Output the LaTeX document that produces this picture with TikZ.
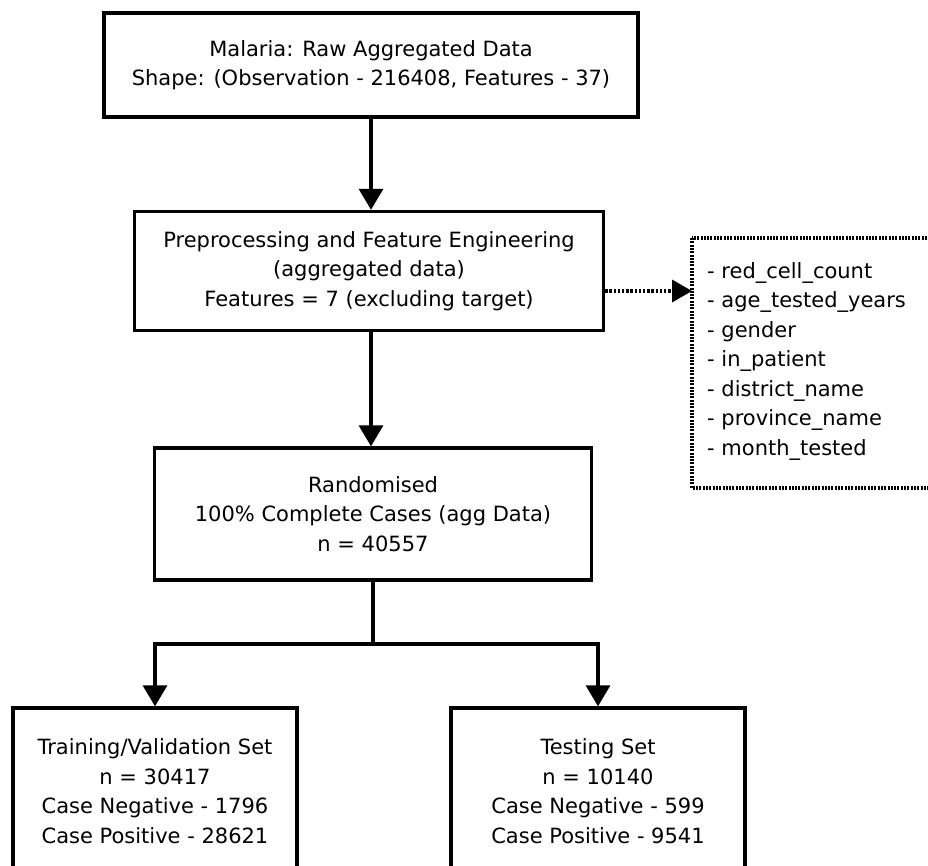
\documentclass[tikz,border=0pt]{standalone}
\usepackage{fontspec}
\setmainfont{DejaVu Sans}
\usetikzlibrary{arrows.meta}
\begin{document}
\begin{tikzpicture}[x=1pt,y=-1pt,
  txt/.style={font=\fontsize{21}{29.5}\selectfont},
  procbox/.style={draw, line width=3.4pt, align=center, inner sep=0pt, txt},
  flow/.style={line width=3.4pt, -{Triangle[length=21pt,width=24pt]}},
  dotarrow/.style={line width=3.6pt, dash pattern=on 2.4pt off 1.8pt, -{Triangle[length=20pt,width=22pt]}},
  dotbox/.style={draw, line width=3.4pt, dash pattern=on 2pt off 1.3pt}]
\useasboundingbox (0,0) rectangle (928,865);
\clip (0,0) rectangle (928,865);

% main processing steps
\node[procbox, minimum width=534pt, minimum height=104pt] (raw) at (371,65)
  {Malaria: Raw Aggregated Data\\Shape: (Observation - 216408, Features - 37)};
\node[procbox, minimum width=469pt, minimum height=119pt] (prep) at (369,271)
  {Preprocessing and Feature Engineering\\(aggregated data)\\Features = 7 (excluding target)};
\node[procbox, minimum width=437pt, minimum height=132pt] (rand) at (373,514)
  {Randomised\\100\% Complete Cases (agg Data)\\n = 40557};
\node[procbox, minimum width=284pt, minimum height=166pt] (train) at (155,791)
  {Training/Validation Set\\n = 30417\\Case Negative - 1796\\Case Positive - 28621};
\node[procbox, minimum width=294pt, minimum height=166pt] (test) at (598,791)
  {Testing Set\\n = 10140\\Case Negative - 599\\Case Positive - 9541};

% list of retained features
\draw[dotbox] (692,238) rectangle (1000,488);
\coordinate (featin) at (692,291);
\node[txt, anchor=west, align=left, inner sep=0pt] (feats) at (707,361)
  {- red\_cell\_count\\- age\_tested\_years\\- gender\\- in\_patient\\- district\_name\\- province\_name\\- month\_tested};

% connectors
\draw[flow] (raw.south) -- (raw.south |- prep.north);
\draw[flow] (prep.south -| raw.south) -- (raw.south |- rand.north);
\coordinate (split) at (rand.south |- 0,644);
\draw[line width=3.4pt] (rand.south) -- (split);
\draw[flow] (split) -| (train.north);
\draw[flow] (split) -| (test.north);
\draw[dotarrow] (prep.east |- featin) -- (featin);
\end{tikzpicture}
\end{document}
